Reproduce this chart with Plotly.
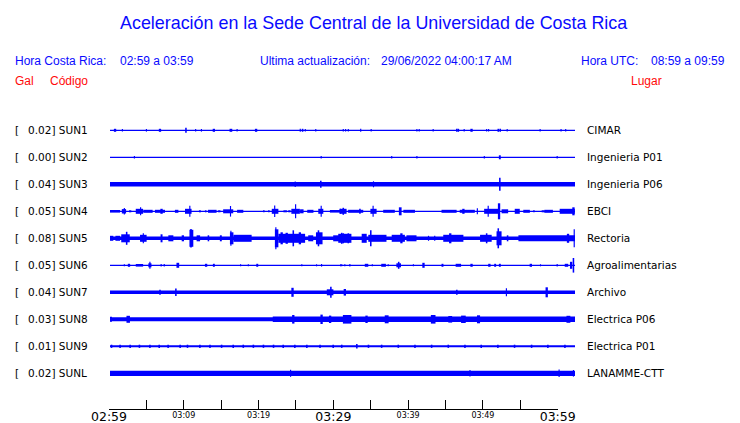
import plotly.graph_objects as go

# ---------------- data ----------------
STATIONS = ["SUN1", "SUN2", "SUN3", "SUN4", "SUN5", "SUN6", "SUN7", "SUN8", "SUN9", "SUNL"]
PEAK_GAL = ["0.02", "0.00", "0.04", "0.05", "0.08", "0.05", "0.04", "0.03", "0.01", "0.02"]
PLACES = ["CIMAR", "Ingenieria P01", "Ingenieria P06", "EBCI", "Rectoria",
          "Agroalimentarias", "Archivo", "Electrica P06", "Electrica P01", "LANAMME-CTT"]

# background noise half-amplitude of every trace (display amplitude units)
BASE_AMP = [0.6, 0.6, 2.2, 0.6, 1.8, 0.6, 1.7, 2.0, 1.0, 2.6]

# bursts / spikes per station: (minute after 02:59, half-amplitude, duration in minutes)
SUN1_EV = [(0.65, 1.5, 0.3), (1.6, 1.3, 0.15), (4.7, 1.3, 0.15), (6.45, 1.5, 0.3), (9.8, 2.5, 0.2),
           (11.05, 1.3, 0.15), (11.8, 1.3, 0.15), (13.4, 1.5, 0.3), (15.6, 1.5, 0.35), (16.4, 1.3, 0.15),
           (18.85, 1.5, 0.3), (24.55, 1.5, 0.15), (24.85, 1.5, 0.2), (25.2, 1.3, 0.15), (26.55, 1.3, 0.15),
           (30.1, 1.3, 0.15), (30.4, 1.3, 0.15), (30.75, 1.3, 0.15), (32.35, 1.5, 0.15), (33.7, 1.3, 0.15),
           (39.6, 1.3, 0.15), (39.9, 1.3, 0.15), (41.7, 1.2, 0.15), (44.75, 1.5, 0.2), (44.95, 1.5, 0.2),
           (45.7, 1.3, 0.15), (46.65, 1.5, 0.3), (48.6, 1.3, 0.15), (48.85, 1.2, 0.15), (50.1, 1.5, 0.2),
           (50.35, 1.5, 0.2), (51.25, 1.2, 0.15), (55.5, 1.3, 0.15), (58.2, 1.3, 0.15), (58.8, 1.3, 0.15)]
SUN2_EV = [(3.15, 1.3, 0.15), (27.25, 1.2, 0.15), (36.35, 1.3, 0.15), (39.6, 1.3, 0.15),
           (48.3, 1.2, 0.15), (50.3, 2.0, 0.25), (57.7, 1.2, 0.15)]
SUN3_EV = [(23.9, 2.8, 0.15), (27.2, 3.5, 0.2), (34.0, 3.0, 0.15), (50.3, 6.5, 0.2)]
SUN4_EV = [(0.65, 1.3, 1.3), (1.8, 2.2, 0.55), (1.85, 3.3, 0.15), (2.6, 1.0, 0.3), (3.8, 2.5, 0.95),
           (3.95, 4.0, 0.15), (4.9, 1.5, 1.2), (6.45, 1.5, 1.3), (6.65, 2.5, 0.3), (8.6, 1.5, 0.45),
           (10.1, 2.5, 0.85), (10.3, 5.5, 0.15), (11.6, 1.0, 0.25), (12.35, 1.0, 0.2), (13.2, 1.5, 1.1),
           (14.1, 1.0, 0.3), (15.25, 2.0, 1.3), (15.55, 5.3, 0.15), (16.8, 1.5, 0.8), (19.85, 1.0, 0.2),
           (20.5, 1.0, 0.2), (21.3, 2.5, 0.85), (21.25, 5.7, 0.15), (22.6, 1.0, 0.45), (23.15, 1.0, 0.3),
           (23.95, 2.5, 1.1), (23.95, 7.0, 0.15), (24.75, 2.0, 0.45), (25.85, 1.5, 0.8), (27.2, 2.5, 0.65),
           (27.25, 5.5, 0.15), (29.35, 1.3, 1.95), (29.7, 2.5, 0.2), (30.1, 2.5, 0.85), (30.1, 3.5, 0.2),
           (31.7, 1.5, 1.95), (32.25, 2.5, 0.2), (34.0, 2.5, 0.8), (33.95, 5.5, 0.15), (36.0, 1.5, 1.5),
           (37.45, 4.0, 0.35), (38.6, 1.5, 1.5), (43.75, 1.5, 1.95), (46.1, 1.5, 1.95), (45.6, 2.5, 0.3),
           (47.4, 3.0, 0.15), (49.2, 2.5, 1.85), (48.8, 5.5, 0.15), (50.2, 8.0, 0.3), (50.95, 2.0, 0.85),
           (52.55, 2.5, 0.65), (53.75, 1.5, 0.85), (54.7, 1.0, 0.2), (55.9, 1.0, 0.4), (56.6, 1.5, 1.1),
           (59.0, 2.5, 1.95), (59.8, 4.0, 0.3)]
SUN5_EV = [(0.2, 2.5, 0.45), (1.0, 2.5, 0.6), (2.0, 4.0, 1.1), (2.15, 6.5, 0.2), (4.3, 3.5, 0.85),
           (4.3, 5.0, 0.15), (6.65, 4.0, 0.25), (7.85, 3.0, 0.65), (9.4, 3.0, 0.3), (10.5, 8.5, 0.5),
           (10.45, 9.2, 0.2), (11.4, 3.0, 0.45), (12.7, 3.0, 0.2), (14.3, 3.0, 0.25), (15.7, 6.0, 0.45),
           (15.6, 7.5, 0.15), (17.1, 3.5, 2.35), (21.5, 9.0, 0.45), (21.4, 11.0, 0.15), (23.45, 4.5, 3.45),
           (22.15, 6.0, 0.3), (22.8, 5.5, 0.3), (23.65, 8.0, 0.2), (24.5, 6.0, 0.3), (25.9, 3.0, 0.65),
           (27.0, 6.0, 0.85), (26.9, 8.0, 0.2), (29.55, 3.0, 1.5), (30.1, 5.0, 0.2), (30.3, 4.5, 1.7),
           (29.9, 5.5, 0.2), (30.75, 5.0, 0.2), (32.8, 4.5, 0.65), (34.5, 3.5, 2.35), (33.65, 8.0, 0.2),
           (37.2, 3.5, 1.7), (37.6, 5.0, 0.3), (38.9, 3.0, 1.3), (41.1, 2.5, 0.15), (41.9, 2.5, 0.15),
           (44.3, 3.5, 2.6), (43.9, 5.0, 0.3), (48.5, 3.5, 1.5), (48.6, 5.0, 0.2), (50.2, 7.0, 0.65),
           (50.1, 10.0, 0.2), (51.3, 3.0, 0.2), (56.35, 3.0, 7.3), (59.1, 4.5, 0.3), (59.9, 9.0, 0.15)]
SUN6_EV = [(1.85, 1.0, 0.15), (2.45, 1.5, 0.3), (3.8, 1.3, 0.95), (5.15, 2.0, 0.4), (5.15, 3.5, 0.15),
           (6.6, 1.2, 0.15), (7.0, 1.2, 0.15), (8.75, 2.5, 0.35), (12.4, 1.5, 0.3), (13.4, 1.5, 0.25),
           (16.85, 1.0, 0.15), (17.85, 1.0, 0.15), (19.0, 1.5, 0.25), (24.75, 1.0, 0.15), (26.65, 1.0, 0.15),
           (27.3, 1.3, 0.15), (29.75, 1.0, 0.15), (29.9, 1.0, 0.15), (30.3, 1.0, 0.15), (30.95, 1.3, 0.15),
           (33.1, 1.5, 0.45), (33.85, 1.0, 0.15), (35.3, 1.5, 0.6), (35.9, 1.0, 0.15), (37.25, 2.0, 0.6),
           (37.25, 3.5, 0.2), (39.15, 1.0, 0.15), (40.45, 2.5, 0.3), (42.9, 1.5, 0.25), (44.95, 1.5, 0.7),
           (46.65, 1.5, 0.3), (48.95, 1.5, 0.3), (49.7, 1.5, 0.25), (50.3, 1.5, 0.25), (54.3, 1.5, 0.3),
           (55.55, 1.0, 0.15), (57.7, 1.2, 0.15), (58.9, 1.5, 0.45), (59.5, 3.5, 0.3), (59.8, 7.3, 0.2)]
SUN7_EV = [(6.45, 2.5, 0.2), (8.5, 3.7, 0.2), (23.55, 4.5, 0.3), (28.4, 3.0, 0.85), (28.5, 5.5, 0.2),
           (30.3, 3.3, 0.3), (44.75, 2.5, 0.2), (51.15, 4.0, 0.15), (56.35, 5.0, 0.3)]
SUN8_EV = [(40.5, 2.8, 39.0), (0.1, 2.5, 0.3), (2.35, 3.5, 0.45), (23.65, 4.3, 0.3), (27.3, 4.7, 0.3),
           (28.4, 3.7, 0.3), (30.6, 4.3, 1.1), (33.1, 3.7, 0.3), (35.7, 4.0, 0.5), (41.7, 4.3, 0.6),
           (43.9, 3.3, 0.5), (45.6, 3.7, 0.6), (47.55, 4.0, 0.4), (59.15, 3.5, 0.5)]
SUN9_EV = [(0.2, 1.6, 0.2), (1.3, 1.6, 0.2), (2.6, 1.6, 0.2), (3.8, 1.6, 0.2), (5.15, 1.6, 0.2),
           (6.35, 1.6, 0.2), (7.5, 1.6, 0.2), (9.05, 1.6, 0.2), (10.0, 1.6, 0.2), (11.6, 1.6, 0.2),
           (12.9, 1.6, 0.2), (14.4, 1.6, 0.2), (15.9, 1.6, 0.2), (17.2, 1.6, 0.2), (18.5, 1.6, 0.2),
           (19.8, 1.6, 0.2), (21.1, 1.6, 0.2), (22.35, 1.6, 0.2), (23.85, 1.6, 0.2), (25.4, 1.6, 0.2),
           (27.1, 1.6, 0.2), (28.8, 1.6, 0.2), (29.9, 1.6, 0.2), (31.85, 2.2, 0.2), (33.35, 1.6, 0.2),
           (35.05, 1.6, 0.2), (37.2, 1.6, 0.2), (39.35, 1.6, 0.2), (41.5, 1.6, 0.2), (43.65, 1.6, 0.2),
           (45.8, 1.6, 0.2), (47.9, 1.6, 0.2), (50.05, 1.6, 0.2), (52.2, 1.6, 0.2), (54.4, 1.6, 0.2),
           (56.5, 1.6, 0.2), (58.7, 1.6, 0.2)]
SUNL_EV = [(23.3, 3.5, 0.15), (46.45, 3.2, 0.15), (57.95, 3.7, 0.15), (59.8, 3.3, 0.15)]
EVENTS = [SUN1_EV, SUN2_EV, SUN3_EV, SUN4_EV, SUN5_EV, SUN6_EV, SUN7_EV, SUN8_EV, SUN9_EV, SUNL_EV]

TIME_SPAN = 60  # minutes shown
TICK_MINUTES = list(range(0, 61, 5))
MAJOR_TICKS = [0, 30, 60]
MAJOR_LABELS = ["02:59", "03:29", "03:59"]
MINOR_TICKS = [10, 20, 40, 50]
MINOR_LABELS = ["03:09", "03:19", "03:39", "03:49"]

# ---------------- figure ----------------
W, H = 740, 423
AMP_PER_ROW = 27.0          # amplitude units per row spacing
ROW0_PX, ROW_PX = 130.3, 27.0
BLUE = "#0000ff"
TXT_BLUE = "#0a0aff"
TXT_RED = "#ff0a0a"

fig = go.Figure()

for i, (base, ev) in enumerate(zip(BASE_AMP, EVENTS)):
    xs = [TIME_SPAN / 2] + [e[0] for e in ev]
    amps = [base] + [e[1] for e in ev]
    widths = [TIME_SPAN] + [e[2] for e in ev]
    fig.add_trace(go.Bar(
        x=xs, y=[2 * a / AMP_PER_ROW for a in amps], base=[i - a / AMP_PER_ROW for a in amps],
        width=widths, marker=dict(color=BLUE, line=dict(width=0)),
        xaxis="x", yaxis="y", hoverinfo="skip", showlegend=False))

# invisible helpers so the time axes get drawn
fig.add_trace(go.Scatter(x=[0, 60], y=[0, 0], mode="markers", marker=dict(opacity=0),
                         xaxis="x2", yaxis="y", hoverinfo="skip", showlegend=False))
fig.add_trace(go.Scatter(x=[0, 60], y=[0, 0], mode="markers", marker=dict(opacity=0),
                         xaxis="x3", yaxis="y", hoverinfo="skip", showlegend=False))

y_top = -ROW0_PX / ROW_PX
y_bot = (H - ROW0_PX) / ROW_PX
axis_pos = 1 - 409.3 / H

fig.update_layout(
    template="none",
    width=W, height=H, margin=dict(l=0, r=0, t=0, b=0, pad=0, autoexpand=False),
    paper_bgcolor="white", plot_bgcolor="rgba(0,0,0,0)",
    barmode="overlay", showlegend=False,
    xaxis=dict(domain=[110 / W, 575 / W], range=[0, TIME_SPAN], visible=False, fixedrange=True,
               automargin=False),
    yaxis=dict(domain=[0, 1], range=[y_bot, y_top], visible=False, fixedrange=True, automargin=False),
    xaxis2=dict(domain=[109 / W, 557.7 / W], range=[0, TIME_SPAN], anchor="free", position=axis_pos,
                showline=True, linecolor="black", linewidth=1, showgrid=False, zeroline=False,
                ticks="inside", ticklen=9, tickwidth=1, tickcolor="black",
                tickvals=TICK_MINUTES, automargin=False, ticklabelstandoff=-4,
                ticktext=[MAJOR_LABELS[MAJOR_TICKS.index(t)] if t in MAJOR_TICKS else "" for t in TICK_MINUTES],
                tickfont=dict(family="DejaVu Sans", size=12.5, color="black"), fixedrange=True),
    xaxis3=dict(domain=[109 / W, 557.7 / W], range=[0, TIME_SPAN], anchor="free", position=axis_pos,
                showline=False, showgrid=False, zeroline=False, ticks="", automargin=False,
                tickvals=MINOR_TICKS, ticktext=MINOR_LABELS,
                tickfont=dict(family="DejaVu Sans", size=8, color="black"), fixedrange=True),
)

ann = []
def txt(x, y, s, color, size, family, xanchor="left", yref="paper"):
    ann.append(dict(x=x, y=y, xref="paper", yref=yref, text=s, showarrow=False, xanchor=xanchor,
                    yanchor="middle", borderpad=0, borderwidth=0,
                    font=dict(color=color, size=size, family=family)))

HEAD = "Liberation Sans"
txt(373.5 / W, 1 - 22.7 / H, "Aceleración en la Sede Central de la Universidad de Costa Rica",
    TXT_BLUE, 17.9, HEAD, xanchor="center")
txt(15 / W, 1 - 61 / H, "Hora Costa Rica:", TXT_BLUE, 12, HEAD)
txt(120 / W, 1 - 61 / H, "02:59 a 03:59", TXT_BLUE, 12, HEAD)
txt(260 / W, 1 - 61 / H, "Ultima actualización:", TXT_BLUE, 12, HEAD)
txt(380.5 / W, 1 - 61 / H, "29/06/2022 04:00:17 AM", TXT_BLUE, 12, HEAD)
txt(580.5 / W, 1 - 61 / H, "Hora UTC:", TXT_BLUE, 12, HEAD)
txt(650.5 / W, 1 - 61 / H, "08:59 a 09:59", TXT_BLUE, 12, HEAD)
txt(15 / W, 1 - 80.7 / H, "Gal", TXT_RED, 12, HEAD)
txt(50 / W, 1 - 80.7 / H, "Código", TXT_RED, 12, HEAD)
txt(630.5 / W, 1 - 80.7 / H, "Lugar", TXT_RED, 12, HEAD)

for i, (st, g, pl) in enumerate(zip(STATIONS, PEAK_GAL, PLACES)):
    txt(14.5 / W, i, "[", "black", 10.5, "DejaVu Sans", yref="y")
    txt(27.5 / W, i, f"{g}] {st}", "black", 10.5, "DejaVu Sans", yref="y")
    txt(587 / W, i, pl, "black", 10.5, "DejaVu Sans", yref="y")

fig.update_layout(annotations=ann)
fig.write_html("out.html", config={"displayModeBar": False, "staticPlot": True},
               post_script="document.body.style.margin='0px';document.body.style.overflow='hidden';")
